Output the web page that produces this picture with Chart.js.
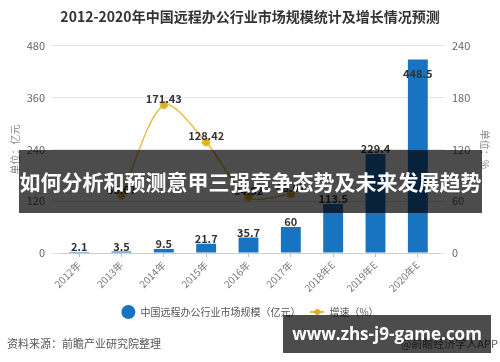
<!DOCTYPE html>
<html>
<head>
<meta charset="utf-8">
<script src="https://cdn.jsdelivr.net/npm/chart.js@4.4.0/dist/chart.umd.min.js"></script>
<style>
  html, body { margin: 0; padding: 0; background: #fff; }
  #wrap { position: relative; width: 500px; height: 362px; font-family: "Noto Sans CJK SC", "Noto Sans", sans-serif; }
  #c { position: absolute; left: 0; top: 0; }
  .src { position: absolute; left: 7px; top: 335px; font-size: 11px; color: #555; }
  .app { position: absolute; right: 2px; top: 335px; font-size: 11px; color: #555; }
  .band { position: absolute; left: 19px; top: 150px; width: 463px; height: 63px; background: rgba(0,0,0,0.7);
          color: #fff; font-size: 21px; font-weight: bold; line-height: 63px; text-align: center; white-space: nowrap; }
  .site { position: absolute; left: 283px; top: 315px; width: 208px; height: 38px; background: rgba(0,0,0,0.7);
          color: #fff; font-family: "Open Sans", sans-serif; font-size: 17px; font-weight: bold; line-height: 38px;
          text-align: center; white-space: nowrap; }
</style>
</head>
<body>
<div id="wrap">
  <canvas id="c" width="500" height="362"></canvas>
  <div class="src">资料来源：前瞻产业研究院整理</div>
  <div class="app">@前瞻经济学人APP</div>
  <div class="band">如何分析和预测意甲三强竞争态势及未来发展趋势</div>
  <div class="site">www.zhs-j9-game.com</div>
</div>
<script>
const years = ['2012年', '2013年', '2014年', '2015年', '2016年', '2017年', '2018年E', '2019年E', '2020年E'];
const marketSize = [2.1, 3.5, 9.5, 21.7, 35.7, 60, 113.5, 229.4, 448.5];
const growthRate = [null, 66.67, 171.43, 128.42, 64.52, 68.07, null, null, null];

const font = '"Noto Sans CJK SC", "Noto Sans", sans-serif';

// little line-with-dot marker for the growth legend item
const lineMark = document.createElement('canvas');
lineMark.width = 14;
lineMark.height = 8;
(function () {
  const g = lineMark.getContext('2d');
  g.strokeStyle = '#e6bf45';
  g.lineWidth = 2;
  g.beginPath(); g.moveTo(0, 4); g.lineTo(14, 4); g.stroke();
  g.fillStyle = '#e0ad2a';
  g.beginPath(); g.arc(7, 4, 3, 0, Math.PI * 2); g.fill();
})();

const valueLabels = {
  id: 'valueLabels',
  afterDatasetsDraw(chart) {
    const ctx = chart.ctx;
    ctx.save();
    ctx.font = 'bold 11px ' + font;
    ctx.fillStyle = '#333';
    ctx.textAlign = 'center';
    chart.data.datasets.forEach((ds, i) => {
      chart.getDatasetMeta(i).data.forEach((el, j) => {
        const v = ds.data[j];
        if (v == null) return;
        let y = el.y - (ds.type === 'line' ? 6 : 5);
        if (y - 10 < chart.chartArea.top) y = el.y + 14;
        ctx.fillText(String(v), el.x, y);
      });
    });
    ctx.restore();
  }
};

new Chart(document.getElementById('c'), {
  data: {
    labels: years,
    datasets: [
      {
        type: 'line',
        label: '增速（%）',
        data: growthRate,
        yAxisID: 'y1',
        borderColor: '#e6bf45',
        backgroundColor: '#e0ad2a',
        borderWidth: 1.5,
        pointRadius: 3.5,
        pointStyle: 'circle',
        tension: 0.3,
        order: 0,
      },
      {
        type: 'bar',
        label: '中国远程办公行业市场规模（亿元）',
        data: marketSize,
        yAxisID: 'y',
        backgroundColor: '#1874c1',
        categoryPercentage: 1,
        barPercentage: 0.47,
        order: 1,
      },
    ],
  },
  options: {
    responsive: false,
    animation: false,
    layout: { padding: { left: 0, right: 0, top: 0, bottom: 35 } },
    plugins: {
      title: {
        display: true,
        text: '2012-2020年中国远程办公行业市场规模统计及增长情况预测',
        color: '#333',
        font: { family: font, size: 14, weight: 'bold' },
        padding: { top: 8, bottom: 21 },
      },
      legend: {
        position: 'bottom',
        reverse: true,
        labels: {
          usePointStyle: true,
          pointStyleWidth: 14,
          boxHeight: 10,
          padding: 10,
          color: '#555',
          font: { family: font, size: 10 },
          generateLabels(chart) {
            const items = Chart.defaults.plugins.legend.labels.generateLabels(chart);
            items.forEach(it => {
              if (it.datasetIndex === 0) it.pointStyle = lineMark;
              else { it.pointStyle = 'circle'; it.fillStyle = '#1874c1'; it.strokeStyle = '#1874c1'; }
            });
            return items;
          },
        },
      },
      tooltip: { enabled: false },
    },
    scales: {
      x: {
        afterFit(s) { s.height = 44; },
        grid: { display: true, drawOnChartArea: false, offset: false, tickLength: 4, color: '#bbb' },
        border: { color: '#ccc' },
        ticks: { color: '#777', font: { family: font, size: 10 }, maxRotation: 45, minRotation: 45, padding: 2 },
      },
      y: {
        position: 'left',
        min: 0,
        max: 480,
        afterFit(s) { s.width = 58; },
        ticks: { stepSize: 120, color: '#666', font: { family: font, size: 11 }, padding: 7 },
        grid: { color: '#e4e4e4', tickLength: 6 },
        border: { display: false },
        title: { display: true, text: '单位：亿元', color: '#888', font: { family: font, size: 10 }, padding: { top: 9, bottom: 0 } },
      },
      y1: {
        position: 'right',
        min: 0,
        max: 240,
        afterFit(s) { s.width = 61; },
        ticks: { stepSize: 60, color: '#666', font: { family: font, size: 11 }, padding: 7 },
        grid: { drawOnChartArea: false, color: '#e4e4e4', tickLength: 6 },
        border: { display: false },
        title: { display: true, text: '单位：%', color: '#888', font: { family: font, size: 10 }, padding: { top: 9, bottom: 0 } },
      },
    },
  },
  plugins: [valueLabels],
});
</script>
</body>
</html>
